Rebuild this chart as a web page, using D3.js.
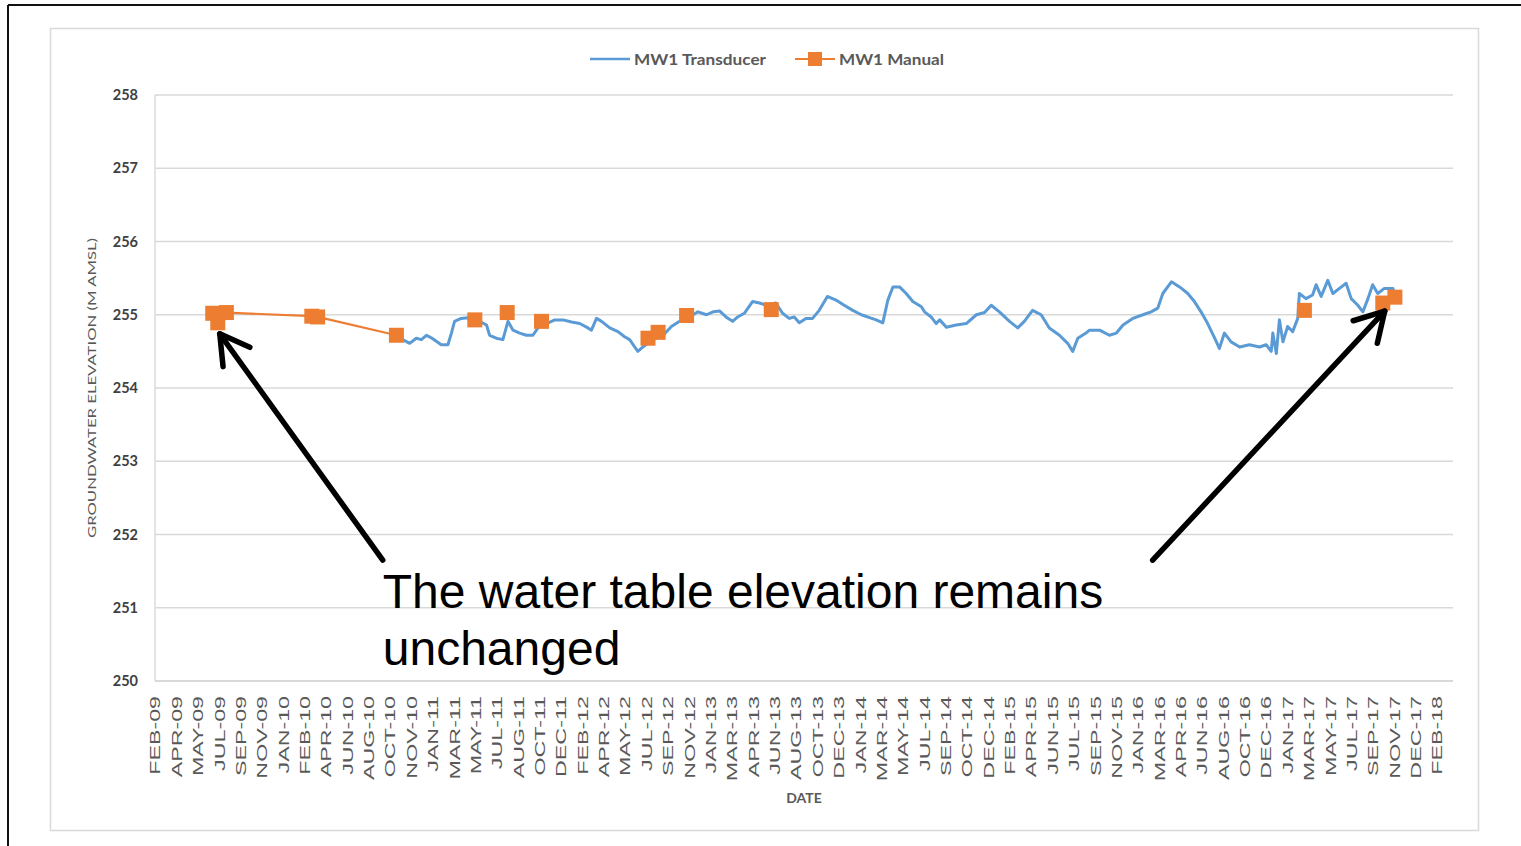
<!DOCTYPE html>
<html><head><meta charset="utf-8">
<script src="https://cdn.jsdelivr.net/npm/d3@7"></script>
<style>html,body{margin:0;padding:0;background:#fff;overflow:hidden}</style>
</head><body><svg id="c" width="1521" height="846"></svg>
<script>
// ---------- DATA ----------
const yTicks = [250, 251, 252, 253, 254, 255, 256, 257, 258];
const xTickLabels = ["FEB-09","APR-09","MAY-09","JUL-09","SEP-09","NOV-09",
  "JAN-10","FEB-10","APR-10","JUN-10","AUG-10","OCT-10","NOV-10",
  "JAN-11","MAR-11","MAY-11","JUL-11","AUG-11","OCT-11","DEC-11",
  "FEB-12","APR-12","MAY-12","JUL-12","SEP-12","NOV-12",
  "JAN-13","MAR-13","APR-13","JUN-13","AUG-13","OCT-13","DEC-13",
  "JAN-14","MAR-14","MAY-14","JUL-14","SEP-14","OCT-14","DEC-14",
  "FEB-15","APR-15","JUN-15","JUL-15","SEP-15","NOV-15",
  "JAN-16","MAR-16","APR-16","JUN-16","AUG-16","OCT-16","DEC-16",
  "JAN-17","MAR-17","MAY-17","JUL-17","SEP-17","NOV-17","DEC-17","FEB-18"];
const xDomain = ["2009-02-01", "2018-02-01"];

const transducerDates = ["2010-10-19","2010-10-29","2010-11-16","2010-12-03","2010-12-16","2010-12-29",
 "2011-01-15","2011-02-05","2011-02-22","2011-03-03","2011-03-11","2011-03-28","2011-04-14","2011-05-01",
 "2011-05-14","2011-06-01","2011-06-09","2011-06-26","2011-07-13","2011-07-26","2011-08-08","2011-08-25",
 "2011-09-11","2011-09-28","2011-10-11","2011-11-02","2011-11-23","2011-12-14",
 "2012-01-05","2012-01-26","2012-02-16","2012-02-25","2012-03-09","2012-03-22","2012-04-12","2012-05-03",
 "2012-05-20","2012-06-02","2012-06-15","2012-06-23","2012-07-06","2012-08-01","2012-08-27","2012-09-17",
 "2012-10-08","2012-11-03","2012-11-24","2012-12-16",
 "2013-01-02","2013-01-19","2013-02-04","2013-02-21","2013-03-06","2013-03-23","2013-04-13","2013-05-01",
 "2013-05-18","2013-06-12","2013-06-29","2013-07-16","2013-07-29","2013-08-11","2013-08-28","2013-09-14",
 "2013-10-01","2013-10-22","2013-11-13","2013-12-04","2013-12-26",
 "2014-01-17","2014-02-07","2014-02-24","2014-03-13","2014-03-26","2014-04-08","2014-04-25","2014-05-12",
 "2014-05-29","2014-06-20","2014-06-28","2014-07-15","2014-07-28","2014-08-06","2014-08-23","2014-09-17",
 "2014-10-13","2014-11-08","2014-11-29","2014-12-16",
 "2015-01-06","2015-02-01","2015-02-22","2015-03-11","2015-04-01","2015-04-23","2015-05-14","2015-06-09",
 "2015-06-30","2015-07-13","2015-07-26","2015-08-16","2015-08-25","2015-09-20","2015-10-15","2015-11-02",
 "2015-11-19","2015-12-14",
 "2016-01-09","2016-01-30","2016-02-16","2016-02-29","2016-03-22","2016-04-12","2016-05-03","2016-05-20",
 "2016-06-06","2016-06-23","2016-07-11","2016-07-23","2016-08-05","2016-08-22","2016-09-13","2016-10-08",
 "2016-11-03","2016-11-20","2016-12-03","2016-12-07","2016-12-16","2016-12-24",
 "2017-01-02","2017-01-14","2017-01-27","2017-02-09","2017-02-13","2017-03-02","2017-03-19","2017-03-28",
 "2017-04-10","2017-04-27","2017-05-10","2017-05-27","2017-06-13","2017-06-26","2017-07-13","2017-07-26",
 "2017-08-08","2017-08-20","2017-09-02","2017-09-19","2017-10-11","2017-10-15"];
const transducerValues = [254.68,254.66,254.61,254.68,254.66,254.72,
 254.67,254.59,254.59,254.75,254.91,254.95,254.96,254.86,
 254.91,254.86,254.72,254.68,254.66,254.91,254.79,254.75,
 254.72,254.72,254.82,254.88,254.93,254.93,
 254.90,254.88,254.82,254.79,254.95,254.91,254.82,254.77,
 254.70,254.66,254.56,254.50,254.56,254.66,254.72,254.84,
 254.91,254.97,255.04,255.00,
 255.04,255.05,254.97,254.91,254.97,255.02,255.18,255.16,
 255.13,255.16,255.02,254.95,254.97,254.89,254.95,254.95,
 255.06,255.25,255.20,255.13,255.06,
 255.00,254.96,254.93,254.89,255.20,255.38,255.38,255.29,
 255.18,255.11,255.04,254.97,254.88,254.93,254.83,254.86,
 254.88,255.00,255.03,255.13,
 255.04,254.91,254.82,254.91,255.06,255.00,254.82,254.72,
 254.61,254.50,254.68,254.75,254.79,254.79,254.72,254.75,
 254.86,254.95,
 255.00,255.04,255.09,255.29,255.45,255.38,255.29,255.18,
 255.04,254.88,254.68,254.54,254.75,254.63,254.56,254.59,
 254.56,254.59,254.50,254.75,254.47,254.93,
 254.63,254.84,254.77,254.95,255.29,255.22,255.27,255.41,
 255.25,255.47,255.29,255.36,255.43,255.22,255.13,255.04,
 255.22,255.41,255.29,255.36,255.36,255.27];

const manualDates = ["2009-06-29","2009-07-12","2009-08-03","2010-03-10","2010-03-25","2010-10-13",
 "2011-05-02","2011-07-24","2011-10-20","2012-07-19","2012-08-14","2012-10-26","2013-05-31",
 "2017-02-26","2017-09-15","2017-10-16"];
const manualValues = [255.02,254.89,255.03,254.98,254.97,254.72,
 254.93,255.03,254.91,254.68,254.76,254.99,255.07,
 255.06,255.16,255.24];

const seriesNames = ["MW1 Transducer", "MW1 Manual"];
const seriesColors = ["#5b9bd5", "#ed7d31"];
const yTitle = "GROUNDWATER ELEVATION (M AMSL)";
const xTitle = "DATE";
const annotationLines = ["The water table elevation remains", "unchanged"];
// arrows in data space: tail -> tip
const arrowTails = [["2010-09-08", 251.65], ["2016-02-03", 251.65]];
const arrowTips  = [["2009-07-17", 254.74], ["2017-09-20", 255.05]];

// ---------- CHART ----------
const parse = d3.timeParse("%Y-%m-%d");
const svg = d3.select("#c");
const W = 1521, H = 846;
const plot = {left: 155, right: 1453, top: 95, bottom: 681, lastTick: 1437};

const x = d3.scaleTime().domain(xDomain.map(parse)).range([plot.left, plot.lastTick]);
const y = d3.scaleLinear().domain([250, 258]).range([plot.bottom, plot.top]);

// outer frame
svg.append("line").attr("x1", 8).attr("y1", 5).attr("x2", W).attr("y2", 5)
  .attr("stroke", "#111").attr("stroke-width", 2);
svg.append("line").attr("x1", 8).attr("y1", 5).attr("x2", 8).attr("y2", H)
  .attr("stroke", "#111").attr("stroke-width", 2);
// chart area border
svg.append("rect").attr("x", 50.5).attr("y", 28.5).attr("width", 1428).attr("height", 802)
  .attr("fill", "#fff").attr("stroke", "#d9d9d9").attr("stroke-width", 1.5);

// gridlines
svg.append("g").selectAll("line").data(yTicks).join("line")
  .attr("x1", plot.left).attr("x2", plot.right)
  .attr("y1", d => y(d)).attr("y2", d => y(d))
  .attr("stroke", "#d9d9d9").attr("stroke-width", d => d === 250 ? 2.2 : 1.4);
svg.append("line").attr("x1", plot.left).attr("x2", plot.left)
  .attr("y1", plot.top).attr("y2", plot.bottom)
  .attr("stroke", "#d9d9d9").attr("stroke-width", 1.4);

// y tick labels
svg.append("g").selectAll("text").data(yTicks).join("text")
  .attr("x", 138).attr("y", d => y(d)).attr("dy", "0.36em")
  .attr("text-anchor", "end")
  .style("font-family", "Lato, 'Open Sans', sans-serif").style("font-weight", "700")
  .style("font-size", "14.5px").attr("fill", "#404040")
  .text(d => d);

// x tick labels (evenly spaced like Excel's date axis units)
const tickPos = d3.scaleLinear().domain([0, xTickLabels.length - 1]).range(x.range());
svg.append("g").selectAll("text").data(xTickLabels).join("text")
  .attr("transform", (d, i) => `translate(${tickPos(i)},696) rotate(-90) scale(1.55,1)`)
  .attr("text-anchor", "end").attr("dy", "0.36em")
  .style("font-family", "'Liberation Sans', Arial, sans-serif")
  .style("font-size", "15px").attr("fill", "#595959")
  .text(d => d);

// axis titles
svg.append("text").attr("transform", `translate(92,${(plot.top + plot.bottom) / 2}) rotate(-90)`)
  .attr("text-anchor", "middle").attr("dy", "0.36em")
  .attr("textLength", 300).attr("lengthAdjust", "spacingAndGlyphs")
  .style("font-family", "Lato, sans-serif").style("font-size", "12px").attr("fill", "#595959")
  .text(yTitle);
svg.append("text").attr("x", 804).attr("y", 798).attr("dy", "0.36em")
  .attr("text-anchor", "middle")
  .style("font-family", "Lato, sans-serif").style("font-weight", "700").style("font-size", "14px")
  .attr("fill", "#595959").text(xTitle);

// transducer line
const tData = transducerDates.map((d, i) => ({date: parse(d), value: transducerValues[i]}));
const line = d3.line().x(d => x(d.date)).y(d => y(d.value));
svg.append("path").datum(tData).attr("d", line)
  .attr("fill", "none").attr("stroke", seriesColors[0]).attr("stroke-width", 3)
  .attr("stroke-linejoin", "round");

// manual series: connecting line only where no transducer record exists yet
const mData = manualDates.map((d, i) => ({date: parse(d), value: manualValues[i]}));
const tStart = tData[0].date;
svg.append("path").datum(mData.filter(d => d.date <= tStart)).attr("d", line)
  .attr("fill", "none").attr("stroke", seriesColors[1]).attr("stroke-width", 2.2);
const ms = 15;
svg.append("g").selectAll("rect").data(mData).join("rect")
  .attr("x", d => x(d.date) - ms / 2).attr("y", d => y(d.value) - ms / 2)
  .attr("width", ms).attr("height", ms).attr("fill", seriesColors[1]);

// legend
const lg = svg.append("g");
const legendItems = [{x: 590, textLen: 132}, {x: 795, textLen: 105}];
seriesNames.forEach((name, i) => {
  const lx = legendItems[i].x, ly = 59;
  lg.append("line").attr("x1", lx).attr("x2", lx + 40).attr("y1", ly).attr("y2", ly)
    .attr("stroke", seriesColors[i]).attr("stroke-width", i === 0 ? 2.6 : 2.2);
  if (i === 1) lg.append("rect").attr("x", lx + 20 - 7).attr("y", ly - 7).attr("width", 14).attr("height", 14)
    .attr("fill", seriesColors[i]);
  lg.append("text").attr("x", lx + 44).attr("y", ly).attr("dy", "0.36em")
    .attr("textLength", legendItems[i].textLen).attr("lengthAdjust", "spacingAndGlyphs")
    .style("font-family", "Lato, sans-serif").style("font-weight", "700").style("font-size", "16px")
    .attr("fill", "#595959").text(name);
});

// annotation arrows
const ann = svg.append("g");
arrowTails.forEach((t, i) => {
  const tx = x(parse(t[0])), ty = y(t[1]);
  const px = x(parse(arrowTips[i][0])), py = y(arrowTips[i][1]);
  const ang = Math.atan2(ty - py, tx - px), L = 33, spread = Math.PI / 6;
  const w1 = [px + L * Math.cos(ang - spread), py + L * Math.sin(ang - spread)];
  const w2 = [px + L * Math.cos(ang + spread), py + L * Math.sin(ang + spread)];
  ann.append("line").attr("x1", tx).attr("y1", ty).attr("x2", px).attr("y2", py)
    .attr("stroke", "#000").attr("stroke-width", 5.5).attr("stroke-linecap", "round");
  ann.append("path").attr("d", `M${w1[0]},${w1[1]}L${px},${py}L${w2[0]},${w2[1]}`)
    .attr("fill", "none").attr("stroke", "#000").attr("stroke-width", 5.5)
    .attr("stroke-linecap", "round").attr("stroke-linejoin", "round");
});
const textX = x(parse(arrowTails[0][0])), textY = y(arrowTails[0][1]);
ann.append("g").selectAll("text").data(annotationLines).join("text")
  .attr("x", textX).attr("y", (d, i) => textY + 48 + i * 57)
  .style("font-family", "'Liberation Sans', Arial, sans-serif").style("font-size", "48px")
  .attr("fill", "#000").text(d => d);
</script>
</body></html>
